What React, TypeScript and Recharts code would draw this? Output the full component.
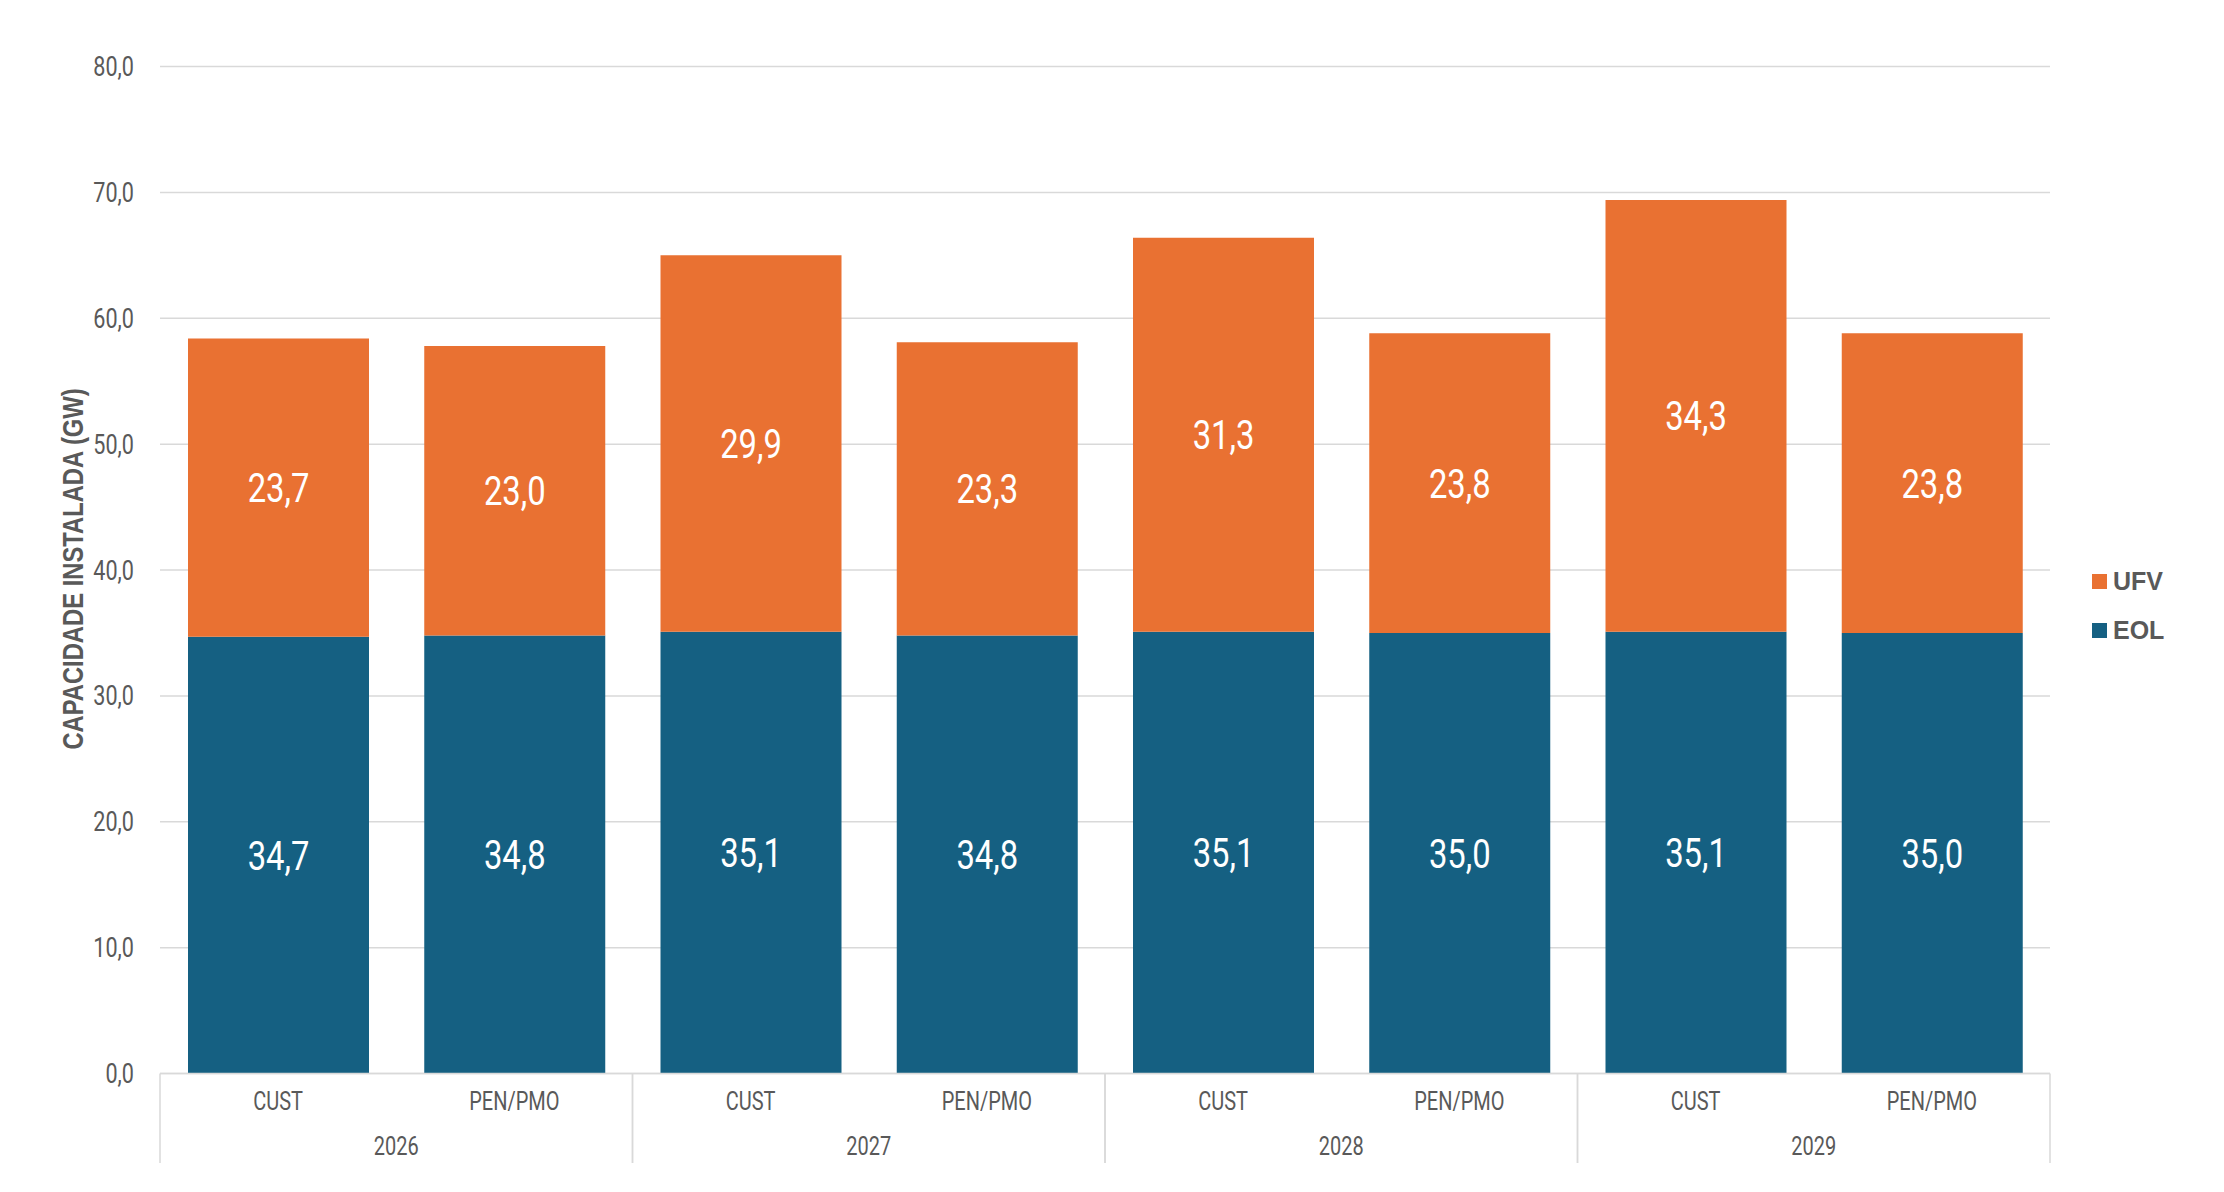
import React from "react";
import { BarChart, Bar, XAxis, YAxis, CartesianGrid, LabelList, Legend } from "recharts";

const categories = ["CUST", "PEN/PMO", "CUST", "PEN/PMO", "CUST", "PEN/PMO", "CUST", "PEN/PMO"];
const years = ["2026", "2026", "2027", "2027", "2028", "2028", "2029", "2029"];
const eolValues = [34.7, 34.8, 35.1, 34.8, 35.1, 35.0, 35.1, 35.0];
const ufvValues = [23.7, 23.0, 29.9, 23.3, 31.3, 23.8, 34.3, 23.8];
const yTicks = [0, 10, 20, 30, 40, 50, 60, 70, 80];

const data = categories.map((c, i) => ({ id: i, cat: c, year: years[i], EOL: eolValues[i], UFV: ufvValues[i] }));

const W = 2224;
const H = 1192;
const M = { top: 66.5, right: 174, bottom: 0, left: 0 };
const Y_AXIS_W = 160;
const PLOT_W = W - M.left - M.right - Y_AXIS_W;
const GROUP_W = (PLOT_W / categories.length) * 2;
const CAT_AXIS_H = 58;
const YEAR_AXIS_H = 60.5;

const ORANGE = "#E97132";
const BLUE = "#156082";
const GRID = "#d9d9d9";
const TEXT = "#595959";
const COND = 0.8;

const fmt = (v: number) => Number(v).toFixed(1).replace(".", ",");

const YTick = (props: any) => {
  const { x, y, payload } = props;
  return (
    <g transform={`translate(${x},${y + 9.5}) scale(${COND},1)`}>
      <text x={0} y={0} textAnchor="end" fontFamily="Roboto" fontSize={27} fill={TEXT}>
        {fmt(payload.value)}
      </text>
    </g>
  );
};

const CatTick = (props: any) => {
  const { x, y, payload } = props;
  return (
    <g transform={`translate(${x},${y + 36}) scale(${COND},1)`}>
      <text x={0} y={0} textAnchor="middle" fontFamily="Roboto" fontSize={25} fill={TEXT}>
        {payload.value}
      </text>
    </g>
  );
};

const YearTick = (props: any) => {
  const { x, y, payload } = props;
  const top = y - CAT_AXIS_H;
  const bottom = y + 31.5;
  return (
    <g>
      <line x1={x - GROUP_W / 2} x2={x - GROUP_W / 2} y1={top} y2={bottom} stroke={GRID} strokeWidth={1.5} />
      <line x1={x + GROUP_W / 2} x2={x + GROUP_W / 2} y1={top} y2={bottom} stroke={GRID} strokeWidth={1.5} />
      <g transform={`translate(${x},${y + 23.5}) scale(${COND},1)`}>
        <text x={0} y={0} textAnchor="middle" fontFamily="Roboto" fontSize={25} fill={TEXT}>
          {payload.value}
        </text>
      </g>
    </g>
  );
};

const ValueLabel = (props: any) => {
  const { x, y, width, height, value } = props;
  const cx = Number(x) + Number(width) / 2;
  const cy = Number(y) + Number(height) / 2;
  return (
    <g transform={`translate(${cx},${cy + 14.5}) scale(${COND},1)`}>
      <text x={0} y={0} textAnchor="middle" fontFamily="Roboto" fontWeight={400} fontSize={41} fill="#ffffff">
        {fmt(value)}
      </text>
    </g>
  );
};

const LegendContent = (props: any) => {
  const items = [...(props.payload || [])].reverse();
  return (
    <div style={{ display: "flex", flexDirection: "column", gap: 0 }}>
      {items.map((it: any) => (
        <div key={it.value} style={{ display: "flex", alignItems: "center", height: 49 }}>
          <span style={{ display: "inline-block", width: 15, height: 15, background: it.color, marginRight: 6 }} />
          <span style={{ fontFamily: "'Liberation Sans', Arial, sans-serif", fontWeight: 700, fontSize: 25, color: TEXT, lineHeight: "25px" }}>
            {it.value}
          </span>
        </div>
      ))}
    </div>
  );
};

export default function App() {
  return (
    <div style={{ position: "absolute", left: 0, top: 0, width: W, height: H, background: "#ffffff" }}>
      <BarChart width={W} height={H} data={data} margin={M}>
        <CartesianGrid vertical={false} stroke={GRID} strokeWidth={1.5} />
        <XAxis
          xAxisId="cat"
          dataKey="id"
          type="category"
          height={CAT_AXIS_H}
          axisLine={{ stroke: GRID, strokeWidth: 1.5 }}
          tickLine={false}
          tickSize={0}
          tickMargin={0}
          interval={0}
          tickFormatter={(v: any) => categories[v]}
          tick={(p: any) => <CatTick {...p} payload={{ ...p.payload, value: categories[p.payload.value] ?? p.payload.value }} />}
        />
        <XAxis
          xAxisId="year"
          dataKey="year"
          type="category"
          allowDuplicatedCategory={false}
          height={YEAR_AXIS_H}
          axisLine={false}
          tickLine={false}
          tickSize={0}
          tickMargin={0}
          interval={0}
          tick={<YearTick />}
        />
        <YAxis
          width={Y_AXIS_W}
          domain={[0, 80]}
          ticks={yTicks}
          axisLine={false}
          tickLine={false}
          tickSize={0}
          tickMargin={26}
          tick={<YTick />}
          label={{
            content: () => (
              <g transform={`translate(72.5,569) rotate(-90) scale(0.82,1)`}>
                <text x={0} y={10.5} textAnchor="middle" fontFamily="'Liberation Sans', Arial, sans-serif" fontWeight={700} fontSize={29} fill={TEXT}>
                  CAPACIDADE INSTALADA (GW)
                </text>
              </g>
            ),
          }}
        />
        <Legend
          layout="vertical"
          align="center"
          verticalAlign="middle"
          content={<LegendContent />}
          wrapperStyle={{ left: 2092, top: 557, width: "auto", height: "auto" }}
        />
        <Bar xAxisId="cat" dataKey="EOL" name="EOL" stackId="a" fill={BLUE} barSize={181} isAnimationActive={false}>
          <LabelList dataKey="EOL" content={<ValueLabel />} />
        </Bar>
        <Bar xAxisId="cat" dataKey="UFV" name="UFV" stackId="a" fill={ORANGE} barSize={181} isAnimationActive={false}>
          <LabelList dataKey="UFV" content={<ValueLabel />} />
        </Bar>
      </BarChart>
    </div>
  );
}
